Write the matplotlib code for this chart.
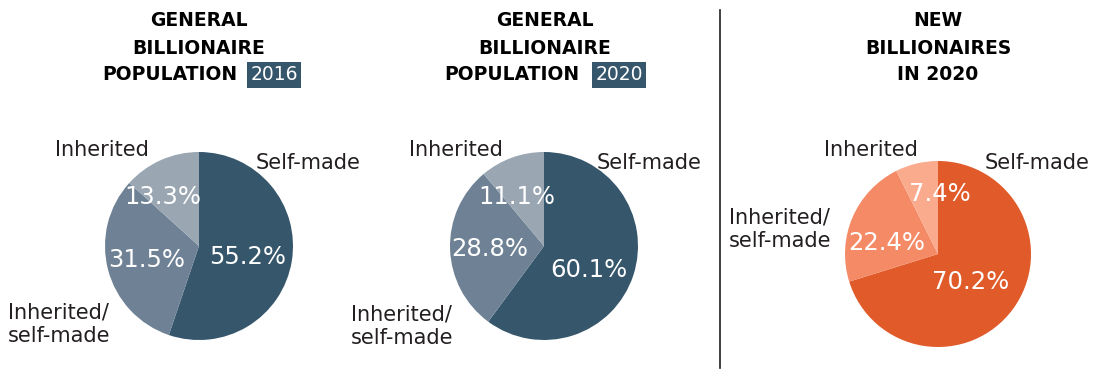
import numpy as np
import matplotlib.pyplot as plt

W, H = 1093, 369

# data
categories = ["Self-made", "Inherited/\nself-made", "Inherited"]
pop_2016 = [55.2, 31.5, 13.3]
pop_2020 = [60.1, 28.8, 11.1]
new_2020 = [70.2, 22.4, 7.4]

blues = ["#36566c", "#6f8295", "#9aa7b3"]
oranges = ["#e05a2a", "#f58a66", "#fbab8d"]

plt.rcParams['font.family'] = ['DejaVu Sans']

fig = plt.figure(figsize=(W / 100, H / 100), dpi=100)
ax = fig.add_axes([0, 0, 1, 1])


def Y(y):
    return H - y


#pies: values, colours, centre, radius, percent label spots, category label spots
pies = [
    (pop_2016, blues, (199, 246), 94,
     [(248, 257), (147, 260), (163, 197)],
     [(256, 163), (8, 324), (55, 150)]),
    (pop_2020, blues, (544, 246), 94,
     [(589, 270), (490, 249), (517, 197)],
     [(597, 163), (351, 326), (409, 150)]),
    (new_2020, oranges, (938, 254), 93,
     [(971, 282), (887, 243), (940, 194)],
     [(985, 163), (729, 229), (824, 150)]),
]

for vals, cols, (cx, cy), r, pct_pos, lab_pos in pies:
    ax.pie(vals, colors=cols, startangle=90, counterclock=False,
           center=(cx, Y(cy)), radius=r, frame=True,
           wedgeprops=dict(linewidth=0))
    for v, (px, py) in zip(vals, pct_pos):
        ax.text(px, Y(py), f"{v}%", color="white", fontsize=17.5,
                ha='center', va='center')
    for name, (lx, ly) in zip(categories, lab_pos):
        ax.text(lx, Y(ly), name, color="#231f20", fontsize=15, ha='left',
                va='center', linespacing=1.2)

ax.set_xlim(0, W)
ax.set_ylim(0, H)
ax.set_aspect('equal')
ax.axis('off')

#titles
tkw = dict(fontsize=13.5, fontweight='bold', color='black', ha='center', va='center')
ax.text(199, Y(21), "GENERAL", **tkw)
ax.text(199, Y(48), "BILLIONAIRE", **tkw)
ax.text(545, Y(21), "GENERAL", **tkw)
ax.text(545, Y(48), "BILLIONAIRE", **tkw)

for x_word, x_year, year in [(170, 274, "2016"), (512, 619, "2020")]:
    ax.text(x_word, Y(75), "POPULATION", **tkw)
    ax.text(x_year, Y(75), year, fontsize=13.5, color='white', ha='center',
            va='center', bbox=dict(boxstyle='square,pad=0.18', fc='#36566c', ec='none'))

ax.text(938, Y(21), "NEW", **tkw)
ax.text(938, Y(48), "BILLIONAIRES", **tkw)
ax.text(938, Y(75), "IN 2020", **tkw)

#divider
ax.plot([720, 720], [Y(10), Y(368)], color='#231f20', linewidth=1.2)

plt.savefig("out.png", dpi=100)
